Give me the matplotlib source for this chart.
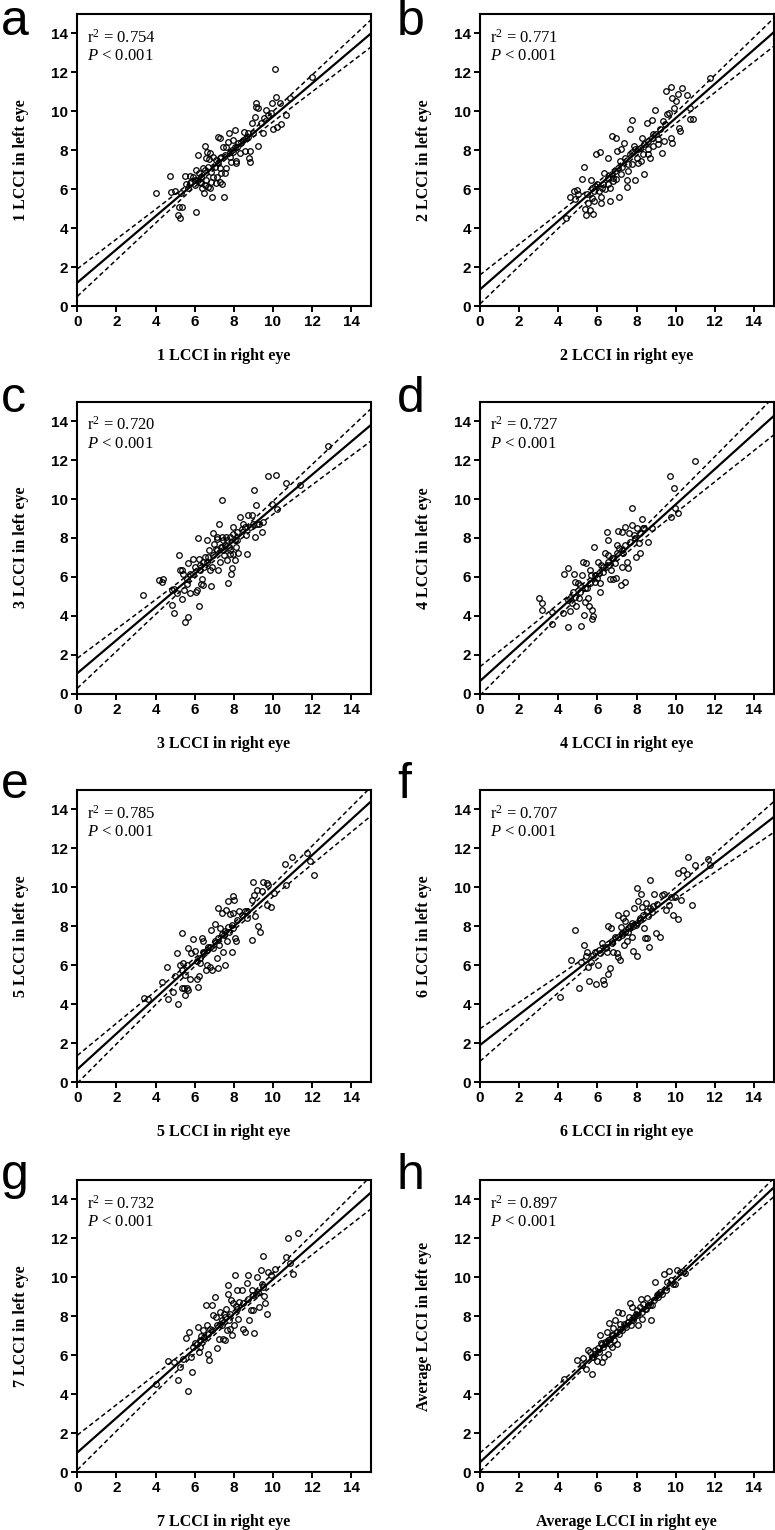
"""
Right vs left eye LCCI, 8 scatter panels with regression line and 95% CI band.
"""

import numpy as np
import matplotlib.pyplot as plt

plt.rcParams['mathtext.fontset'] = 'custom'
plt.rcParams['mathtext.rm'] = 'Liberation Serif'
plt.rcParams['mathtext.it'] = 'Liberation Serif:italic'

letters = ['a', 'b', 'c', 'd', 'e', 'f', 'g', 'h']
names = ['1', '2', '3', '4', '5', '6', '7', 'Average']
r2_text = ['0.754', '0.771', '0.720', '0.727', '0.785', '0.707', '0.732', '0.897']
# fitted line: value at x=0 and slope
intercepts = [1.2, 0.85, 1.05, 0.65, 0.65, 1.9, 1.0, 0.5]
slopes = [0.853, 0.88, 0.85, 0.907, 0.917, 0.78, 0.89, 0.94]

# (right eye, left eye)
pts_a = np.array([
    [4.01, 5.79], [4.74, 6.70], [4.81, 5.87], [4.98, 5.91], [5.51, 6.70], [5.32, 5.82],
    [5.20, 5.10], [5.37, 5.07], [5.17, 4.67], [5.24, 4.50], [6.09, 4.83], [5.66, 6.04],
    [5.78, 6.68], [5.92, 6.64], [6.05, 6.99], [6.17, 7.76], [5.83, 6.39], [6.00, 6.22],
    [6.19, 6.47], [6.43, 7.07], [6.46, 5.79], [6.53, 8.22], [6.63, 7.93], [6.77, 7.84],
    [6.60, 7.59], [6.73, 7.53], [6.55, 6.22], [6.68, 6.13], [6.77, 6.04], [6.34, 6.30],
    [6.90, 5.58], [6.94, 6.64], [6.85, 6.90], [7.02, 7.16], [7.11, 6.30], [7.19, 8.70],
    [7.28, 8.61], [7.36, 6.82], [7.28, 6.39], [7.41, 6.25], [7.48, 5.62], [7.53, 6.82],
    [7.62, 7.07], [7.36, 7.67], [7.45, 8.18], [7.62, 8.18], [7.70, 8.44], [7.76, 8.90],
    [7.82, 7.93], [7.87, 7.41], [7.96, 7.93], [8.04, 9.04], [8.10, 7.36], [8.16, 8.18],
    [8.30, 7.84], [8.47, 8.53], [8.55, 7.98], [8.52, 8.96], [8.72, 8.87], [8.78, 7.59],
    [8.81, 7.98], [8.84, 7.41], [8.72, 8.70], [8.95, 9.38], [9.06, 9.73], [8.98, 8.87],
    [9.12, 10.45], [9.15, 10.24], [9.24, 10.15], [9.24, 8.22], [9.40, 9.38], [9.49, 8.90],
    [9.52, 9.64], [9.66, 10.07], [9.74, 9.81], [9.91, 9.91], [9.97, 10.41], [10.00, 9.08],
    [10.10, 12.16], [10.17, 10.75], [10.20, 9.18], [10.34, 10.41], [10.39, 9.35],
    [10.65, 9.81], [10.85, 10.67], [12.00, 11.78], [6.22, 6.82], [6.31, 6.64], [6.51, 6.99],
    [6.68, 7.16], [7.07, 7.50], [7.19, 7.33], [7.28, 7.59], [7.53, 7.76], [7.79, 7.67],
    [7.93, 8.01], [8.04, 8.18], [8.21, 8.36], [8.39, 8.44], [8.64, 8.61], [6.26, 6.39],
    [6.00, 6.47], [5.75, 6.34], [5.58, 6.27], [6.39, 6.04], [6.60, 6.47], [6.85, 6.39],
    [7.14, 6.64], [7.28, 7.07], [6.94, 7.67], [7.96, 8.53], [8.13, 7.45]])

pts_b = np.array([
    [4.40, 4.50], [4.60, 5.62], [4.80, 5.91], [4.94, 5.94], [4.86, 5.48], [5.00, 5.74],
    [5.20, 6.51], [5.33, 7.16], [5.37, 4.97], [5.40, 4.67], [5.50, 5.31], [5.62, 4.91],
    [5.71, 5.57], [5.66, 6.46], [5.79, 4.74], [5.81, 5.39], [5.88, 6.16], [5.83, 5.91],
    [5.91, 7.79], [6.13, 7.91], [6.18, 5.60], [6.16, 5.31], [6.22, 6.08], [6.35, 6.85],
    [6.39, 6.03], [6.52, 7.62], [6.56, 6.59], [6.64, 5.39], [6.64, 6.04], [6.76, 8.73],
    [6.93, 8.65], [6.81, 6.42], [6.90, 6.93], [6.98, 7.96], [7.10, 5.60], [7.21, 8.05],
    [7.16, 7.45], [7.24, 7.14], [7.38, 8.39], [7.50, 6.46], [7.53, 6.11], [7.58, 7.28],
    [7.67, 9.08], [7.75, 9.54], [7.79, 7.93], [7.89, 8.22], [7.92, 6.46], [8.00, 7.62],
    [8.09, 8.05], [8.23, 7.45], [8.30, 8.65], [8.40, 6.76], [8.52, 9.42], [8.60, 7.79],
    [8.69, 7.62], [8.77, 9.54], [8.86, 8.82], [8.94, 10.05], [9.08, 8.56], [9.28, 7.88],
    [9.37, 9.50], [9.42, 8.48], [9.49, 11.04], [9.54, 9.85], [9.66, 9.93], [9.76, 11.25],
    [9.80, 10.70], [9.76, 8.65], [9.83, 8.39], [9.93, 10.19], [10.02, 10.53], [10.14, 10.87],
    [10.17, 9.16], [10.22, 8.99], [10.34, 11.22], [10.56, 10.84], [10.73, 10.19],
    [10.73, 9.59], [10.87, 9.59], [11.75, 11.70], [6.73, 6.76], [7.04, 7.11], [7.41, 7.62],
    [7.67, 7.79], [7.92, 8.05], [8.18, 8.13], [8.40, 8.30], [8.60, 8.48], [8.81, 8.65],
    [8.98, 8.82], [9.20, 9.08], [9.46, 9.33], [6.08, 5.91], [6.30, 6.25], [6.56, 6.28],
    [6.81, 6.59], [6.95, 6.51], [7.21, 6.76], [7.58, 6.93], [7.75, 7.28], [8.05, 7.36],
    [8.35, 7.79], [8.60, 8.05], [8.86, 8.22], [9.11, 8.30], [5.96, 6.25], [5.71, 6.08],
    [5.45, 5.74]])

pts_c = np.array([
    [3.34, 5.09], [4.19, 5.86], [4.31, 5.74], [4.40, 5.91], [4.82, 4.55], [4.82, 5.32],
    [4.94, 4.12], [4.92, 5.40], [5.08, 5.15], [5.21, 7.11], [5.25, 6.34], [5.33, 6.38],
    [5.33, 4.89], [5.42, 6.17], [5.47, 5.35], [5.50, 3.69], [5.59, 5.62], [5.67, 3.95],
    [5.64, 6.72], [6.20, 4.50], [5.76, 5.15], [5.89, 6.94], [5.93, 6.17], [6.06, 5.23],
    [6.13, 5.32], [6.18, 8.02], [6.24, 6.94], [6.27, 6.34], [6.32, 5.62], [6.35, 5.91],
    [6.41, 5.57], [6.47, 6.51], [6.52, 7.03], [6.61, 7.88], [6.70, 7.03], [6.75, 7.40],
    [6.78, 6.38], [6.81, 5.52], [6.87, 6.51], [6.92, 8.26], [6.98, 7.71], [7.09, 7.45],
    [7.16, 8.05], [7.21, 6.38], [7.24, 8.70], [7.29, 6.77], [7.33, 7.54], [7.38, 9.93],
    [7.46, 7.88], [7.50, 7.11], [7.55, 7.62], [7.60, 8.05], [7.67, 6.85], [7.72, 5.69],
    [7.77, 7.54], [7.80, 7.20], [7.84, 6.17], [7.89, 6.46], [7.94, 8.56], [7.97, 7.20],
    [8.06, 6.85], [8.11, 7.54], [8.18, 7.88], [8.23, 7.23], [8.31, 9.08], [8.48, 8.73],
    [8.62, 8.14], [8.69, 7.20], [8.74, 9.16], [8.82, 8.56], [8.91, 9.16], [8.99, 8.73],
    [9.03, 10.44], [9.08, 8.05], [9.13, 9.68], [9.20, 8.70], [9.30, 8.70], [9.42, 8.31],
    [9.51, 8.82], [9.76, 11.16], [9.93, 9.76], [10.15, 11.25], [10.22, 9.50],
    [10.66, 10.82], [11.38, 10.70], [12.83, 12.70], [6.61, 6.77], [6.95, 7.11], [7.12, 7.37],
    [7.38, 7.54], [7.63, 7.88], [7.80, 8.05], [7.97, 8.22], [8.14, 8.31], [8.40, 8.48],
    [8.57, 8.56], [6.27, 6.60], [6.44, 6.77], [5.99, 6.51], [5.76, 6.17], [5.59, 5.91],
    [7.12, 7.97], [7.41, 8.05], [8.06, 7.88], [7.80, 7.37], [7.46, 7.37]])

pts_d = np.array([
    [3.02, 4.94], [3.19, 4.65], [3.19, 4.31], [3.66, 4.22], [3.70, 3.57], [4.26, 4.14],
    [4.31, 6.14], [4.51, 6.48], [4.48, 3.42], [4.51, 4.82], [4.60, 4.26], [4.68, 4.65],
    [4.77, 5.21], [4.82, 6.14], [4.86, 5.76], [4.89, 4.53], [4.99, 5.68], [5.06, 4.91],
    [5.11, 5.59], [5.16, 3.50], [5.23, 6.10], [5.28, 6.79], [5.33, 4.05], [5.37, 4.70],
    [5.40, 6.70], [5.45, 5.42], [5.50, 4.94], [5.57, 4.53], [5.62, 6.36], [5.67, 6.10],
    [5.71, 4.31], [5.74, 3.85], [5.79, 3.97], [5.84, 7.56], [5.88, 5.76], [5.96, 5.93],
    [6.05, 6.79], [6.13, 5.68], [6.13, 5.21], [6.18, 6.62], [6.30, 6.27], [6.39, 7.21],
    [6.47, 8.29], [6.52, 7.90], [6.56, 7.13], [6.59, 6.62], [6.64, 5.90], [6.70, 6.36],
    [6.76, 6.96], [6.81, 5.90], [6.90, 6.70], [6.93, 5.93], [6.98, 7.64], [7.04, 8.36],
    [7.10, 7.47], [7.21, 5.59], [7.24, 8.32], [7.27, 6.53], [7.33, 7.21], [7.41, 8.58],
    [7.41, 5.76], [7.50, 6.79], [7.58, 6.44], [7.62, 8.24], [7.75, 8.67], [7.79, 9.56],
    [7.89, 8.15], [7.96, 7.04], [8.01, 8.50], [8.13, 7.73], [8.18, 7.21], [8.26, 8.97],
    [8.35, 8.53], [8.57, 7.81], [8.77, 8.50], [9.73, 11.18], [9.76, 9.09], [9.93, 10.58],
    [9.97, 9.52], [10.14, 9.26], [10.99, 11.97], [5.88, 6.10], [6.08, 6.19], [6.30, 6.53],
    [6.56, 6.79], [6.81, 6.96], [6.98, 7.21], [7.24, 7.38], [7.41, 7.64], [7.67, 7.81],
    [7.92, 7.98], [8.18, 8.24], [8.40, 8.50], [5.37, 5.42], [5.62, 5.68], [5.11, 5.25],
    [4.86, 4.99], [4.60, 4.91]])

pts_e = np.array([
    [3.41, 4.33], [3.63, 4.26], [4.31, 5.12], [4.60, 5.93], [4.65, 4.26], [4.87, 4.64],
    [4.99, 5.46], [5.11, 6.62], [5.16, 3.99], [5.25, 6.01], [5.33, 4.85], [5.37, 7.63],
    [5.42, 6.10], [5.45, 4.85], [5.50, 4.47], [5.50, 5.50], [5.59, 4.81], [5.67, 4.73],
    [5.67, 6.87], [5.76, 5.29], [5.79, 6.62], [5.93, 7.34], [6.01, 6.74], [6.10, 5.29],
    [6.18, 4.90], [6.24, 5.46], [6.27, 6.10], [6.35, 7.39], [6.44, 7.22], [6.47, 6.62],
    [6.58, 5.76], [6.61, 6.01], [6.70, 6.96], [6.78, 5.93], [6.87, 5.76], [6.81, 7.82],
    [6.95, 6.87], [7.04, 8.11], [7.12, 6.36], [7.21, 5.88], [7.21, 8.93], [7.26, 7.04],
    [7.29, 7.90], [7.38, 8.68], [7.43, 6.70], [7.50, 7.56], [7.55, 6.01], [7.60, 8.85],
    [7.63, 7.22], [7.72, 9.28], [7.77, 7.73], [7.80, 8.63], [7.89, 6.70], [7.94, 7.90],
    [7.97, 8.68], [8.02, 9.36], [8.06, 7.39], [8.11, 7.22], [8.28, 8.80], [8.65, 8.76],
    [8.69, 8.42], [8.91, 7.30], [8.91, 9.36], [8.96, 10.27], [9.03, 9.62], [9.08, 8.51],
    [9.17, 9.88], [9.25, 7.99], [9.34, 7.70], [9.42, 9.79], [9.51, 10.27], [9.68, 10.22],
    [9.68, 9.07], [9.76, 10.14], [9.88, 8.97], [10.05, 9.71], [10.61, 11.20],
    [10.66, 10.10], [10.95, 11.56], [11.72, 11.77], [11.89, 11.34], [12.10, 10.62],
    [6.10, 6.22], [6.27, 6.39], [6.44, 6.67], [6.61, 6.79], [6.78, 6.96], [7.04, 7.22],
    [7.21, 7.42], [7.38, 7.59], [7.55, 7.77], [7.72, 7.94], [7.89, 8.08], [8.14, 8.33],
    [8.40, 8.59], [8.57, 8.76], [5.59, 6.01], [5.33, 5.76], [7.97, 9.53]])

pts_f = np.array([
    [4.09, 4.38], [4.65, 6.27], [4.86, 7.82], [5.08, 4.81], [5.14, 6.19], [5.33, 7.04],
    [5.40, 6.49], [5.45, 6.70], [5.50, 5.93], [5.57, 5.19], [5.67, 6.19], [5.76, 6.53],
    [5.88, 6.70], [5.91, 5.02], [6.01, 6.01], [6.08, 6.79], [6.22, 7.13], [6.30, 5.24],
    [6.35, 5.02], [6.42, 6.96], [6.47, 6.70], [6.52, 7.99], [6.56, 5.53], [6.64, 5.88],
    [6.70, 7.90], [6.76, 7.22], [6.81, 6.70], [6.90, 7.47], [6.98, 6.62], [7.04, 8.56],
    [7.07, 6.44], [7.16, 6.27], [7.21, 7.94], [7.27, 7.56], [7.33, 8.42], [7.38, 7.04],
    [7.41, 8.28], [7.46, 8.68], [7.50, 7.22], [7.58, 7.73], [7.67, 7.99], [7.75, 7.47],
    [7.79, 8.16], [7.84, 6.74], [7.89, 8.93], [7.96, 8.08], [8.01, 9.97], [8.04, 6.49],
    [8.09, 9.28], [8.18, 8.33], [8.23, 9.67], [8.30, 8.97], [8.40, 7.90], [8.43, 7.39],
    [8.47, 9.19], [8.52, 7.39], [8.60, 8.51], [8.64, 6.96], [8.69, 10.40], [8.81, 8.73],
    [8.91, 9.66], [8.98, 7.65], [9.20, 7.47], [9.28, 9.62], [9.42, 9.66], [9.49, 8.85],
    [9.66, 9.11], [9.76, 9.48], [9.88, 8.56], [9.97, 9.48], [10.10, 10.74], [10.14, 8.38],
    [10.27, 9.36], [10.39, 10.91], [10.56, 10.69], [10.61, 11.55], [10.85, 9.07],
    [10.99, 11.13], [11.67, 11.48], [11.75, 11.13], [7.41, 7.73], [7.58, 7.90], [7.84, 7.99],
    [8.01, 8.16], [8.18, 8.42], [8.35, 8.59], [8.52, 8.80], [8.69, 8.93], [8.86, 9.02],
    [9.03, 9.14], [7.24, 7.65], [7.07, 7.47], [6.73, 7.13], [6.39, 6.87], [6.13, 6.62]])

pts_g = np.array([
    [4.02, 4.54], [4.65, 5.70], [4.94, 5.65], [5.16, 4.74], [5.25, 5.39], [5.42, 5.82],
    [5.55, 6.88], [5.67, 4.16], [5.72, 7.19], [5.79, 5.91], [5.84, 5.14], [5.93, 6.42],
    [6.01, 6.63], [6.10, 6.59], [6.18, 7.45], [6.24, 6.16], [6.27, 6.42], [6.32, 6.97],
    [6.41, 7.28], [6.47, 6.85], [6.58, 8.56], [6.61, 7.53], [6.70, 6.08], [6.75, 5.74],
    [6.78, 7.36], [6.87, 8.56], [6.92, 8.05], [7.04, 8.99], [7.09, 7.96], [7.16, 6.39],
    [7.26, 6.85], [7.29, 8.22], [7.38, 7.53], [7.46, 6.85], [7.50, 8.13], [7.55, 6.76],
    [7.60, 8.39], [7.63, 7.28], [7.68, 9.62], [7.72, 9.16], [7.77, 7.79], [7.80, 7.36],
    [7.85, 8.82], [7.89, 7.02], [7.97, 8.68], [8.01, 7.53], [8.06, 10.10], [8.11, 8.51],
    [8.18, 9.37], [8.23, 7.88], [8.28, 8.73], [8.40, 9.37], [8.45, 7.36], [8.57, 7.19],
    [8.69, 9.71], [8.74, 10.10], [8.79, 7.79], [8.86, 8.30], [8.91, 9.33], [8.99, 8.34],
    [9.05, 7.14], [9.13, 9.16], [9.20, 10.02], [9.30, 8.48], [9.37, 10.36], [9.42, 9.67],
    [9.51, 11.08], [9.54, 9.02], [9.59, 8.68], [9.68, 8.13], [9.76, 10.27], [9.88, 10.10],
    [10.10, 10.45], [10.66, 11.04], [10.78, 12.02], [10.87, 10.74], [11.01, 10.19],
    [11.29, 12.28], [6.27, 6.76], [6.47, 6.93], [6.70, 7.11], [6.87, 7.28], [7.12, 7.53],
    [7.38, 7.79], [7.55, 7.96], [7.80, 8.13], [8.14, 8.39], [8.48, 8.68], [8.74, 8.90],
    [8.99, 9.08], [9.25, 9.25], [9.51, 9.50], [7.29, 7.62]])

pts_h = np.array([
    [4.31, 4.79], [4.94, 5.77], [5.20, 5.48], [5.28, 5.87], [5.40, 5.31], [5.50, 6.28],
    [5.62, 6.16], [5.74, 5.02], [5.79, 5.91], [5.88, 6.04], [5.96, 5.70], [6.08, 6.16],
    [6.13, 7.02], [6.18, 6.63], [6.22, 5.65], [6.30, 6.42], [6.35, 5.91], [6.42, 6.63],
    [6.47, 7.19], [6.52, 6.76], [6.56, 6.08], [6.59, 7.65], [6.64, 6.56], [6.73, 7.02],
    [6.76, 6.42], [6.81, 7.41], [6.86, 6.76], [6.90, 7.79], [6.98, 6.59], [7.07, 8.22],
    [7.10, 7.07], [7.16, 7.62], [7.24, 8.17], [7.27, 7.28], [7.38, 7.62], [7.44, 7.45],
    [7.55, 7.71], [7.62, 7.96], [7.67, 8.68], [7.72, 7.53], [7.79, 8.48], [7.84, 7.83],
    [7.89, 7.96], [7.96, 8.13], [8.01, 8.30], [8.09, 7.53], [8.18, 8.48], [8.23, 8.90],
    [8.30, 7.88], [8.35, 8.65], [8.43, 8.39], [8.52, 8.96], [8.60, 8.56], [8.72, 7.83],
    [8.81, 8.56], [8.94, 9.76], [9.03, 9.08], [9.11, 9.16], [9.20, 9.25], [9.42, 10.15],
    [9.54, 9.76], [9.66, 10.33], [9.76, 9.88], [9.88, 9.67], [9.97, 9.67], [10.05, 10.36],
    [10.22, 10.27], [10.39, 10.33], [10.48, 10.22], [5.71, 5.91], [5.88, 6.25], [6.05, 6.39],
    [6.22, 6.59], [6.39, 6.68], [6.64, 6.85], [6.81, 7.02], [6.98, 7.19], [7.16, 7.36],
    [7.41, 7.53], [7.58, 7.71], [7.79, 7.88], [8.01, 8.05], [8.26, 8.22], [8.47, 8.39],
    [8.69, 8.56], [8.91, 8.82], [9.11, 8.99], [9.28, 9.16], [9.49, 9.33]])

panels = [pts_a, pts_b, pts_c, pts_d, pts_e, pts_f, pts_g, pts_h]

W, H = 775, 1530
col_left = [77.3, 480]
row_top = [14, 401.7, 790, 1180]
ax_w, ax_h = 293.5, 292
letter_x = [1, 397]
letter_base = [35, 412, 798, 1189]

fig = plt.figure(figsize=(W / 100, H / 100), dpi=100)

for i, pts in enumerate(panels):
    r, c = divmod(i, 2)
    ax = fig.add_axes([col_left[c] / W, 1 - (row_top[r] + ax_h) / H, ax_w / W, ax_h / H])
    x, y = pts[:, 0], pts[:, 1]

    xs = np.linspace(0, 15, 300)
    fit = intercepts[i] + slopes[i] * xs
    resid = y - (intercepts[i] + slopes[i] * x)
    n = len(x)
    s = np.sqrt(np.sum(resid ** 2) / (n - 2))
    sxx = np.sum((x - x.mean()) ** 2)
    half = 1.98 * s * np.sqrt(1 / n + (xs - x.mean()) ** 2 / sxx)

    ax.plot(xs, fit, color='k', lw=1.6)
    ax.plot(xs, fit + half, color='k', ls=(0, (3, 2)), lw=1.1)
    ax.plot(xs, fit - half, color='k', ls=(0, (3, 2)), lw=1.1)
    ax.plot(x, y, 'o', mfc='none', mec='k', ms=4, mew=0.9)

    ax.set_xlim(0, 15)
    ax.set_ylim(0, 15)
    ax.set_xticks(range(0, 15, 2))
    ax.set_yticks(range(0, 15, 2))
    for sp in ax.spines.values():
        sp.set_linewidth(1.5)
    ax.tick_params(direction='out', length=4.5, width=1.4, pad=2)
    for lab in ax.get_xticklabels() + ax.get_yticklabels():
        lab.set_fontfamily('Liberation Sans')
        lab.set_fontweight('bold')
        lab.set_fontsize(11)

    ax.set_xlabel(names[i] + ' LCCI in right eye', family='Liberation Serif',
                  fontweight='bold', fontsize=11.5, labelpad=14)
    ax.set_ylabel(names[i] + ' LCCI in left eye', family='Liberation Serif',
                  fontweight='bold', fontsize=11.5, labelpad=16)

    ax.text(0.5, 13.8, 'r$^2$ = ' + r2_text[i], va='center', family='Liberation Serif',
            fontsize=12)
    ax.text(0.5, 12.85, '$P$ < 0.001', va='center', family='Liberation Serif', fontsize=12)

    fig.text(letter_x[c] / W, 1 - letter_base[r] / H, letters[i], fontsize=36,
             family='Liberation Sans', va='baseline', ha='left')

fig.savefig('out.png', dpi=100)
plt.close()
